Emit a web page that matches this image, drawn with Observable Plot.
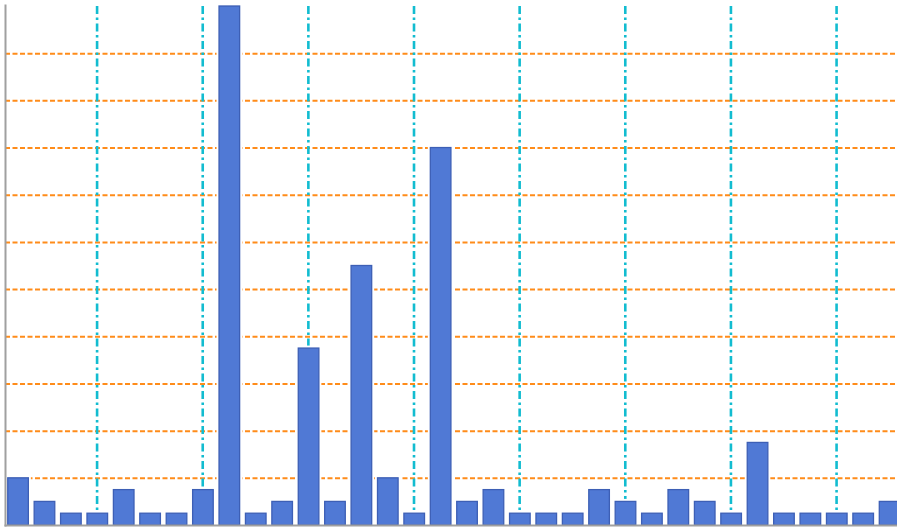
<!DOCTYPE html>
<html>
<head>
<meta charset="utf-8">
<script src="https://cdn.jsdelivr.net/npm/d3@7"></script>
<script src="https://cdn.jsdelivr.net/npm/@observablehq/plot@0.6"></script>
<style>
  html, body { margin: 0; padding: 0; background: #fff; overflow: hidden; }
  #chart svg { display: block; }
</style>
</head>
<body>
<div id="chart"></div>
<script>
const categories = ["1","2","3","4","5","6","7","8","9","10","11","12","13","14","15","16","17","18","19","20","21","22","23","24","25","26","27","28","29","30","31","32","33","34"];
const values = [4,2,1,1,3,1,1,3,44,1,2,15,2,22,4,1,32,2,3,1,1,1,3,2,1,3,2,1,7,1,1,1,1,2];
const yGrid = [4,8,12,16,20,24,28,32,36,40];
const xGrid = ["4","8","12","16","20","24","28","32"];

const data = categories.map((c, i) => ({cat: c, value: values[i]}));

const chart = Plot.plot({
  width: 897,
  height: 527,
  marginLeft: 5,
  marginRight: 0,
  marginTop: 5,
  marginBottom: 2,
  style: {background: "#fff"},
  x: {type: "band", domain: categories, range: [4.85, 902.8], round: false, paddingInner: 0.22, paddingOuter: 0.11, axis: null},
  y: {domain: [0, 44], range: [525, 6], axis: null},
  marks: [
    Plot.ruleY(yGrid, {stroke: "#ff8c1a", strokeWidth: 2, strokeDasharray: "5,2.5"}),
    Plot.ruleX(xGrid, {x: d => d, y1: 44, y2: 0, dx: -0.7, stroke: "#12bcd0", strokeWidth: 2.6, strokeDasharray: "8,3.5,2.5,3.5"}),
    Plot.barY(data, {x: "cat", y: "value", fill: "#fff", stroke: "#fff", strokeWidth: 5}),
    Plot.barY(data, {x: "cat", y: "value", fill: "#5079d5", stroke: "#3d5fb5", strokeWidth: 1.3}),
    Plot.frame({anchor: "left", stroke: "#a0a0a0", strokeWidth: 2}),
    Plot.frame({anchor: "bottom", stroke: "#a0a0a0", strokeWidth: 2})
  ]
});
document.getElementById("chart").appendChild(chart);
</script>
</body>
</html>
